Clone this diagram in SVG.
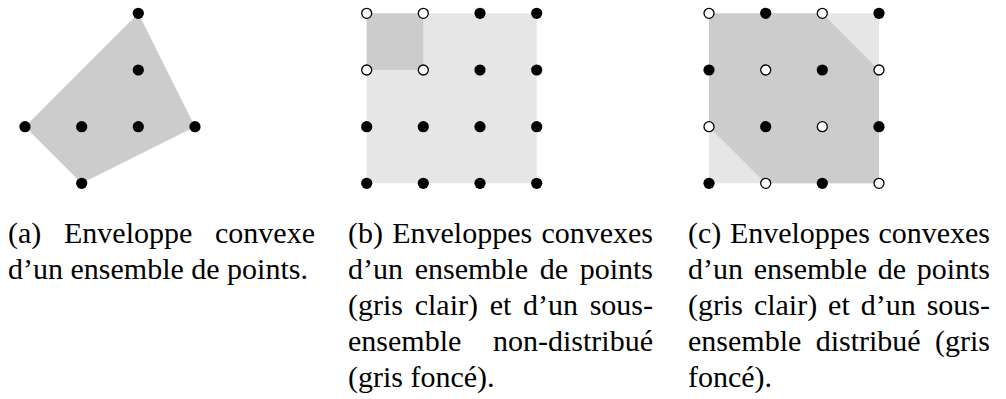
<svg xmlns="http://www.w3.org/2000/svg" width="1006" height="399" viewBox="0 0 1006 399">
<style>
.light{fill:#e6e6e6;stroke:none}
.dark{fill:#cccccc;stroke:none}
.f{fill:#000;stroke:none}
.o{fill:#fff;stroke:#000;stroke-width:1.3}
text{font-family:"Liberation Serif","Times New Roman",serif;font-size:30px;fill:#000}
.e{text-anchor:end}
</style>
<defs>
<circle id="pf" r="5.6" class="f"/>
<circle id="po" r="5" class="o"/>
</defs>
<rect width="1006" height="399" fill="#fff"/>

<g id="panel-a">
<polygon class="dark" points="138.3,13.3 195,126.7 81.7,183.3 25,126.7"/>
<use href="#pf" x="138.3" y="13.3"/>
<use href="#pf" x="138.3" y="70"/>
<use href="#pf" x="25" y="126.7"/>
<use href="#pf" x="81.7" y="126.7"/>
<use href="#pf" x="138.3" y="126.7"/>
<use href="#pf" x="195" y="126.7"/>
<use href="#pf" x="81.7" y="183.3"/>
</g>

<g id="panel-b">
<rect class="light" x="366.7" y="13.3" width="170" height="170"/>
<rect class="dark" x="366.7" y="13.3" width="56.6" height="56.7"/>
<use href="#po" x="366.7" y="13.3"/>
<use href="#po" x="423.3" y="13.3"/>
<use href="#pf" x="480" y="13.3"/>
<use href="#pf" x="536.7" y="13.3"/>
<use href="#po" x="366.7" y="70"/>
<use href="#po" x="423.3" y="70"/>
<use href="#pf" x="480" y="70"/>
<use href="#pf" x="536.7" y="70"/>
<use href="#pf" x="366.7" y="126.7"/>
<use href="#pf" x="423.3" y="126.7"/>
<use href="#pf" x="480" y="126.7"/>
<use href="#pf" x="536.7" y="126.7"/>
<use href="#pf" x="366.7" y="183.3"/>
<use href="#pf" x="423.3" y="183.3"/>
<use href="#pf" x="480" y="183.3"/>
<use href="#pf" x="536.7" y="183.3"/>
</g>

<g id="panel-c">
<rect class="light" x="709" y="13.3" width="170" height="170"/>
<polygon class="dark" points="709,13.3 822.3,13.3 879,70 879,183.3 765.7,183.3 709,126.7"/>
<use href="#po" x="709" y="13.3"/>
<use href="#pf" x="765.7" y="13.3"/>
<use href="#po" x="822.3" y="13.3"/>
<use href="#pf" x="879" y="13.3"/>
<use href="#pf" x="709" y="70"/>
<use href="#po" x="765.7" y="70"/>
<use href="#pf" x="822.3" y="70"/>
<use href="#po" x="879" y="70"/>
<use href="#po" x="709" y="126.7"/>
<use href="#pf" x="765.7" y="126.7"/>
<use href="#po" x="822.3" y="126.7"/>
<use href="#pf" x="879" y="126.7"/>
<use href="#pf" x="709" y="183.3"/>
<use href="#po" x="765.7" y="183.3"/>
<use href="#pf" x="822.3" y="183.3"/>
<use href="#po" x="879" y="183.3"/>
</g>

<g id="caption-a">
<text x="8" y="243">(a)</text>
<text x="64" y="243">Enveloppe</text>
<text class="e" x="315" y="243">convexe</text>
<text x="8" y="279">d’un ensemble de points.</text>
</g>

<g id="caption-b">
<text x="348" y="243">(b)</text>
<text x="392.2" y="243">Enveloppes</text>
<text class="e" x="653" y="243">convexes</text>
<text x="348" y="279">d’un</text>
<text x="414.7" y="279">ensemble</text>
<text x="539.7" y="279">de</text>
<text class="e" x="653" y="279">points</text>
<text x="348" y="315">(gris</text>
<text x="414.7" y="315">clair)</text>
<text x="489.7" y="315">et</text>
<text x="523.1" y="315">d’un</text>
<text class="e" x="653" y="315">sous-</text>
<text x="348" y="351">ensemble</text>
<text class="e" x="653" y="351">non-distribué</text>
<text x="348" y="387">(gris foncé).</text>
</g>

<g id="caption-c">
<text x="688" y="243">(c)</text>
<text x="729.9" y="243">Enveloppes</text>
<text class="e" x="990" y="243">convexes</text>
<text x="688" y="279">d’un</text>
<text x="753.7" y="279">ensemble</text>
<text x="877.7" y="279">de</text>
<text class="e" x="990" y="279">points</text>
<text x="688" y="315">(gris</text>
<text x="753.9" y="315">clair)</text>
<text x="828.1" y="315">et</text>
<text x="860.7" y="315">d’un</text>
<text class="e" x="990" y="315">sous-</text>
<text x="688" y="351">ensemble</text>
<text x="815.7" y="351">distribué</text>
<text class="e" x="990" y="351">(gris</text>
<text x="688" y="387">foncé).</text>
</g>
</svg>
